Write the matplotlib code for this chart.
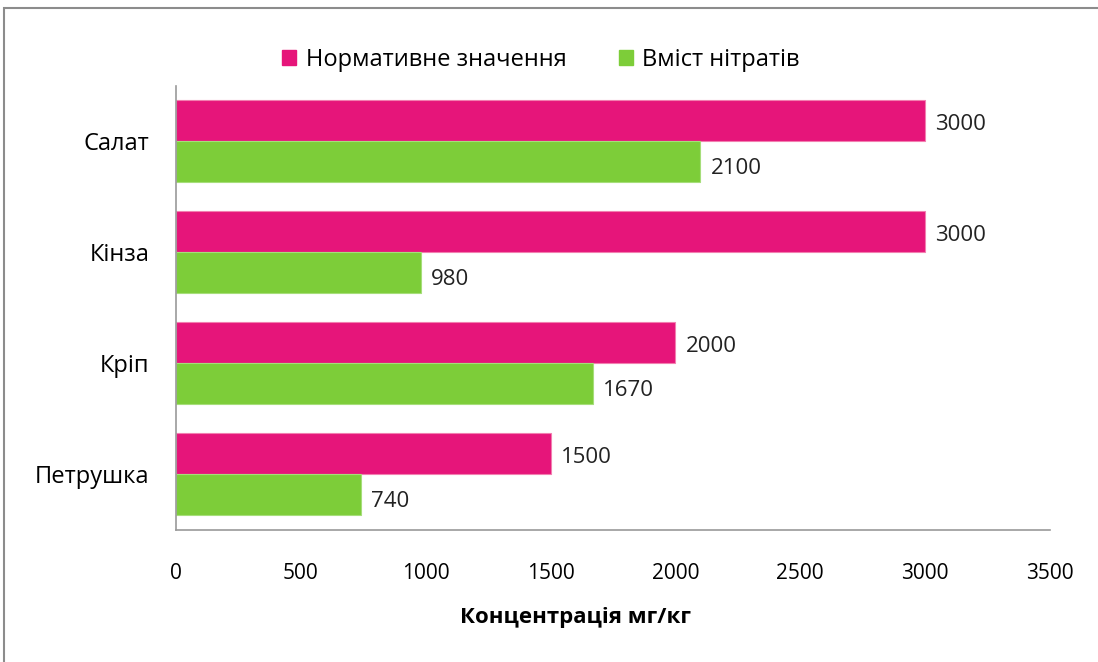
import matplotlib.pyplot as plt
import matplotlib.patches as mpatches
import numpy as np

plt.rcParams['font.family'] = ['Open Sans', 'DejaVu Sans']

categories = ["Салат", "Кінза", "Кріп", "Петрушка"]
norm_values = [3000, 3000, 2000, 1500]
nitrate_values = [2100, 980, 1670, 740]
series_names = ["Нормативне значення", "Вміст нітратів"]
xticks = [0, 500, 1000, 1500, 2000, 2500, 3000, 3500]

pink = "#E6157A"
green = "#7DCD39"

fig = plt.figure(figsize=(10.98, 6.62), dpi=100)
ax = fig.add_axes([176 / 1098, 1 - 529.5 / 662, (1050 - 176) / 1098, (529.5 - 85.5) / 662])

y = np.arange(len(categories))
h = 0.37
ax.barh(y - h / 2, norm_values, height=h, color=pink, edgecolor="#F27FB0", linewidth=0.8, label=series_names[0])
ax.barh(y + h / 2, nitrate_values, height=h, color=green, edgecolor="#A6DE7A", linewidth=0.8, label=series_names[1])

for yi, v in zip(y, norm_values):
    ax.text(v + 40, yi - h / 2 + 0.04, str(v), va="center", ha="left", fontsize=16, color="#222222")
for yi, v in zip(y, nitrate_values):
    ax.text(v + 40, yi + h / 2 + 0.06, str(v), va="center", ha="left", fontsize=16, color="#222222")

ax.set_ylim(len(categories) - 0.5, -0.5)
ax.set_xlim(0, 3500)
ax.set_yticks(y)
ax.set_yticklabels(categories, fontsize=17)
ax.set_xticks(xticks)
ax.set_xticklabels([str(t) for t in xticks], fontsize=15)
ax.tick_params(axis="x", length=0, pad=24)
ax.tick_params(axis="y", length=0, pad=19)
for s in ["top", "right"]:
    ax.spines[s].set_visible(False)
for s in ["left", "bottom"]:
    ax.spines[s].set_color("#9A9A9A")
    ax.spines[s].set_linewidth(1.2)

fig.text(575 / 1098, 1 - 617 / 662, "Концентрація мг/кг", ha="center", va="center", fontsize=16, fontweight="bold")

handles = [mpatches.Patch(color=pink), mpatches.Patch(color=green)]
fig.legend(handles, series_names, loc="center", bbox_to_anchor=(541 / 1098, 1 - 60 / 662), ncol=2,
           frameon=False, fontsize=17, handlelength=0.6, handleheight=0.6, handletextpad=0.4, columnspacing=2.2)

border = mpatches.Rectangle((4 / 1098, -0.01), 1.0, 1 - 8 / 662 + 0.01, transform=fig.transFigure,
                            fill=False, edgecolor="#8C8C8C", linewidth=1.5)
fig.patches.append(border)

fig.savefig("out.png", dpi=100)
